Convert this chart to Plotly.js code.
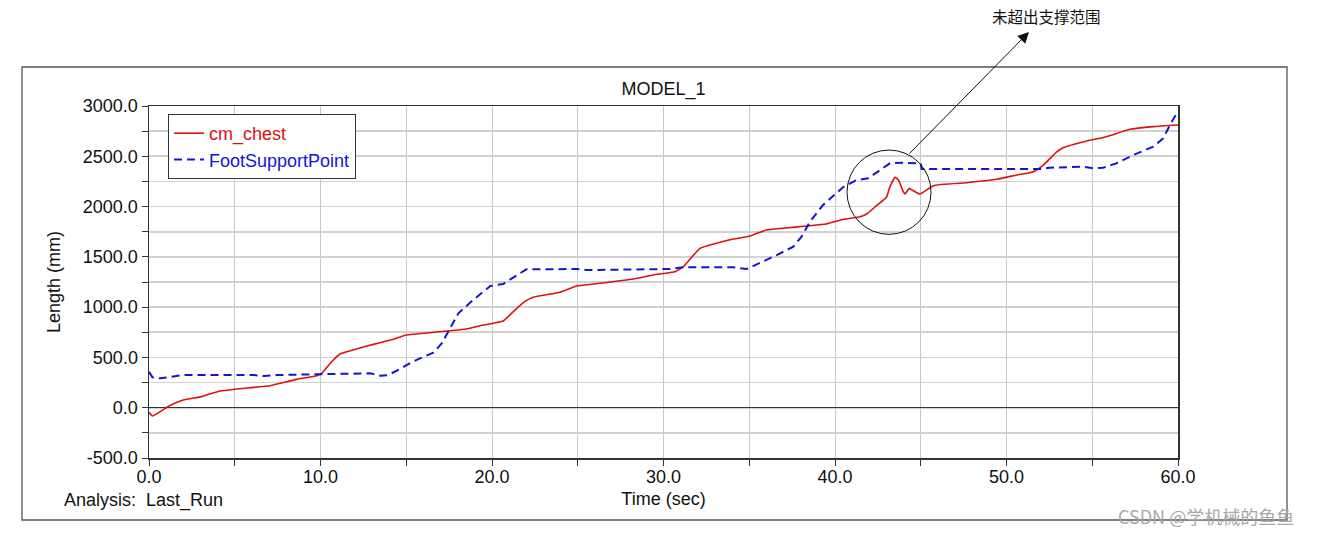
<!DOCTYPE html>
<html>
<head>
<meta charset="utf-8">
<script src="https://cdn.plot.ly/plotly-3.0.1.min.js"></script>
<style>html,body{margin:0;padding:0;background:#fff;}#chart{width:1318px;height:535px;}</style>
</head>
<body>
<div id="chart"></div>
<script>
// cm_chest (red, solid)
const chestTime = [0.0, 0.2, 1.2, 2.0, 3.07, 4.14, 5.1, 7.05, 7.64, 8.6, 9.78, 10.07, 10.65, 11.14, 11.9, 12.7, 13.47, 14.25, 15.0, 16.6, 17.55, 18.5, 19.3, 20.07, 20.65, 21.24, 21.9, 22.4, 23.97, 24.94, 26.3, 28.24, 29.4, 30.67, 31.15, 32.13, 33.1, 34.07, 35.04, 36.0, 36.98, 38.35, 39.5, 40.5, 41.46, 41.85, 42.4, 43.0, 43.2, 43.5, 43.7, 43.98, 44.08, 44.33, 44.57, 44.95, 45.74, 47.68, 49.43, 50.6, 51.56, 52.15, 52.93, 53.3, 54.67, 55.84, 57.2, 58.56, 60.0];
const chestLength = [-45, -83, 20, 77, 110, 166, 186, 219, 242, 282, 318, 342, 457, 534, 574, 613, 646, 680, 723, 750, 766, 783, 815, 839, 862, 955, 1054, 1098, 1148, 1210, 1237, 1280, 1320, 1352, 1402, 1585, 1635, 1677, 1707, 1767, 1784, 1807, 1827, 1873, 1899, 1926, 2006, 2092, 2197, 2291, 2264, 2148, 2125, 2181, 2158, 2125, 2208, 2237, 2271, 2314, 2347, 2413, 2545, 2585, 2652, 2695, 2768, 2795, 2811];

// FootSupportPoint (blue, dashed)
const footTime = [0.0, 0.2, 0.64, 1.4, 2.0, 6.1, 6.7, 7.45, 9.97, 12.9, 13.5, 13.95, 14.6, 15.2, 15.8, 16.58, 17.07, 17.55, 18.04, 18.9, 19.9, 20.65, 21.3, 22.0, 22.6, 24.94, 25.5, 29.6, 30.4, 31.15, 34.07, 34.85, 35.6, 36.6, 37.57, 38.05, 38.54, 39.3, 40.5, 41.26, 41.94, 42.6, 43.2, 43.98, 45.0, 45.05, 51.95, 52.5, 54.48, 55.06, 55.64, 56.4, 57.4, 58.56, 59.14, 59.53, 60.0];
const footLength = [358, 302, 292, 308, 325, 325, 315, 325, 335, 342, 318, 325, 382, 441, 491, 547, 640, 790, 939, 1071, 1210, 1230, 1303, 1376, 1376, 1379, 1369, 1376, 1379, 1396, 1396, 1379, 1436, 1518, 1601, 1700, 1850, 2015, 2197, 2264, 2281, 2363, 2430, 2436, 2430, 2373, 2373, 2386, 2396, 2380, 2386, 2430, 2513, 2595, 2679, 2811, 2950];

const seriesNames = ['cm_chest', 'FootSupportPoint'];
const xTickValues = [0, 10, 20, 30, 40, 50, 60];
const yTickValues = [-500, 0, 500, 1000, 1500, 2000, 2500, 3000];
const xTickText = xTickValues.map(v => v.toFixed(1));
const yTickText = yTickValues.map(v => v.toFixed(1));

const FONT = 'Liberation Sans, Arial, sans-serif';
const RED = '#dd1111';
const BLUE = '#1515d0';

const traces = [
  {
    x: chestTime, y: chestLength, type: 'scatter', mode: 'lines',
    name: '<span style="color:' + RED + '">' + seriesNames[0] + '</span>',
    line: {color: RED, width: 1.6, shape: 'spline', smoothing: 0.4}
  },
  {
    x: footTime, y: footLength, type: 'scatter', mode: 'lines',
    name: '<span style="color:' + BLUE + '">' + seriesNames[1] + '</span>',
    line: {color: BLUE, width: 2, dash: '8px,5px'}
  }
];

const layout = {
  width: 1318, height: 535,
  margin: {l: 149, r: 140, t: 106, b: 77, pad: 0},
  paper_bgcolor: '#ffffff', plot_bgcolor: '#ffffff',
  font: {family: FONT, size: 18, color: '#111'},
  showlegend: true,
  title: {text: 'MODEL_1', font: {family: FONT, size: 18, color: '#111'}, x: 0.5035, xref: 'container', y: 1 - 89/535, yref: 'container', yanchor: 'middle'},
  legend: {
    x: 0.0185, y: (458-114)/352, xanchor: 'left', yanchor: 'top',
    bgcolor: '#ffffff', bordercolor: '#333', borderwidth: 1,
    font: {family: FONT, size: 18}, itemwidth: 30, tracegroupgap: 0
  },
  xaxis: {
    range: [0, 60], tickvals: xTickValues, ticktext: xTickText,
    ticks: 'outside', ticklen: 6, tickcolor: '#333', tickwidth: 1,
    ticklabelstandoff: -4,
    showline: true, linecolor: '#333', linewidth: 1.5, mirror: true,
    showgrid: true, gridcolor: '#c8c8c8', gridwidth: 1,
    minor: {dtick: 5, tick0: 0, ticks: 'outside', ticklen: 6, tickcolor: '#333', showgrid: true, gridcolor: '#c8c8c8', gridwidth: 1},
    zeroline: false, automargin: false,
    tickfont: {family: FONT, size: 18, color: '#111'},
    title: {text: 'Time (sec)', font: {family: FONT, size: 18, color: '#111'}, standoff: 6}
  },
  yaxis: {
    range: [-500, 3000], tickvals: yTickValues, ticktext: yTickText,
    ticks: 'outside', ticklen: 6, tickcolor: '#333', tickwidth: 1,
    showline: true, linecolor: '#333', linewidth: 1.5, mirror: true,
    showgrid: true, gridcolor: '#d2d2d2', gridwidth: 1.6,
    minor: {dtick: 250, tick0: 0, ticks: 'outside', ticklen: 6, tickcolor: '#333', showgrid: true, gridcolor: '#d2d2d2', gridwidth: 1.6},
    zeroline: true, zerolinecolor: '#333', zerolinewidth: 1,
    automargin: false,
    tickfont: {family: FONT, size: 18, color: '#111'},
    title: {text: 'Length (mm)', font: {family: FONT, size: 18, color: '#111'}, standoff: 17}
  },
  shapes: [
    {type: 'rect', xref: 'paper', yref: 'paper', x0: (22-149)/1029, x1: (1287-149)/1029, y0: (458-520)/352, y1: (458-67)/352, line: {color: '#555', width: 1.3}, layer: 'below'},
    {type: 'circle', xref: 'x', yref: 'y', x0: 40.7, x1: 45.6, y0: 1724, y1: 2562, line: {color: '#111', width: 1}}
  ],
  annotations: [
    {xref: 'paper', yref: 'paper', x: (62-149)/1029, y: (458-500)/352, xanchor: 'left', yanchor: 'middle', showarrow: false,
     text: 'Analysis:\u00a0\u00a0Last_Run', font: {family: FONT, size: 18, color: '#111'}},
    {xref: 'paper', yref: 'paper', x: (1029-149)/1029, y: (458-32)/352, ax: -121, ay: 123, axref: 'pixel', ayref: 'pixel',
     text: '', showarrow: true, arrowhead: 2, arrowsize: 2.2, arrowwidth: 1, arrowcolor: '#111', standoff: 0},
    {xref: 'paper', yref: 'paper', x: (1046-149)/1029, y: (458-16)/352, xanchor: 'center', yanchor: 'middle', showarrow: false,
     text: '未超出支撑范围', font: {family: 'Noto Sans CJK SC, sans-serif', size: 15.5, color: '#111'}},
    {xref: 'paper', yref: 'paper', x: (1206-149)/1029, y: (458-516)/352, xanchor: 'center', yanchor: 'middle', showarrow: false,
     text: 'CSDN @学机械的鱼鱼', font: {family: 'Noto Sans CJK SC, sans-serif', size: 18, color: '#a8a8a8'}}
  ]
};

Plotly.newPlot('chart', traces, layout, {staticPlot: true, displayModeBar: false});
</script>
</body>
</html>
